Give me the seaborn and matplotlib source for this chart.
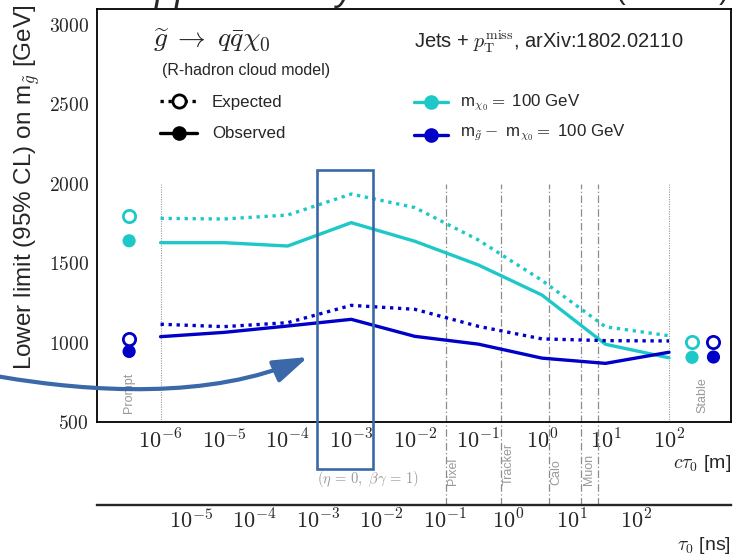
import numpy as np
import pandas as pd
import matplotlib
matplotlib.use("Agg")
import matplotlib.pyplot as plt
import seaborn as sns
from matplotlib.lines import Line2D
from matplotlib.patches import Rectangle, FancyArrowPatch
from matplotlib.path import Path
from matplotlib.ticker import FixedLocator, FuncFormatter, MultipleLocator, NullLocator

# ---------------------------------------------------------------- data
# proper decay length c*tau0 [m] of the scan points
ctau = [1e-6, 1e-5, 1e-4, 1e-3, 1e-2, 1e-1, 1e0, 1e1, 1e2]

# lower limits on the gluino mass [GeV]
light_exp = [1782, 1778, 1803, 1935, 1850, 1646, 1392, 1100, 1044]
light_obs = [1629, 1629, 1608, 1755, 1638, 1489, 1300, 990, 905]
comp_exp = [1116, 1101, 1126, 1235, 1210, 1103, 1024, 1013, 1011]
comp_obs = [1038, 1065, 1105, 1147, 1040, 991, 903, 870, 940]

# prompt and stable reference limits (expected, observed)
prompt_ctau = 3.2e-7
prompt_light = [1799, 1641]
prompt_comp = [1025, 945]
stable_ctau = [230, 500]          # light, compressed
stable_light = [1006, 908]
stable_comp = [1006, 910]

# detector boundaries in c*tau0 [m]
detector_names = ["Pixel", "Tracker", "Calo", "Muon"]
detector_bounds = [[0.0305], [0.227], [1.29], [4.12, 7.55]]

kind_labels = ["Expected", "Observed"]
scenario_labels = [r"m$_{\chi_0} =$ 100 GeV",
                   r"m$_{\tilde{g}} -$ m$_{\chi_0} =$ 100 GeV"]
scenario_colors = ["#1ec8c8", "#0000c8"]

C_LIGHT = 0.299792458  # m / ns

# ---------------------------------------------------------------- style
sns.set_style("white")
plt.rcParams["font.family"] = ["Liberation Sans", "DejaVu Sans"]
plt.rcParams["mathtext.fontset"] = "cm"

W, H = 733, 555
fig = plt.figure(figsize=(W / 100, H / 100), dpi=100)
fig.patch.set_facecolor("white")


def fx(px):
    return px / W


def fy(py):
    return 1 - py / H


ax = fig.add_axes([fx(97), fy(422.2), fx(634), 413.4 / H])
ax.set_xscale("log")
ax.set_xlim(1e-7, 10 ** 2.975)
ax.set_ylim(500, 3100)

# ---------------------------------------------------------------- curves
rows = []
for name, exp, obs in [("light", light_exp, light_obs), ("comp", comp_exp, comp_obs)]:
    for x, e, o in zip(ctau, exp, obs):
        rows.append({"ctau": x, "limit": e, "scenario": name, "kind": "Expected"})
        rows.append({"ctau": x, "limit": o, "scenario": name, "kind": "Observed"})
df = pd.DataFrame(rows)

palette = {"light": scenario_colors[0], "comp": scenario_colors[1]}
sns.lineplot(data=df, x="ctau", y="limit", hue="scenario", style="kind",
             palette=palette, dashes={"Observed": "", "Expected": (1, 1.4)},
             linewidth=2.4, estimator=None, sort=False, legend=False, ax=ax)

# prompt / stable points
pts = pd.DataFrame({
    "ctau": [prompt_ctau, prompt_ctau, stable_ctau[0], stable_ctau[0],
             prompt_ctau, prompt_ctau, stable_ctau[1], stable_ctau[1]],
    "limit": [prompt_light[0], prompt_light[1], stable_light[0], stable_light[1],
              prompt_comp[0], prompt_comp[1], stable_comp[0], stable_comp[1]],
    "scenario": ["light"] * 4 + ["comp"] * 4,
    "kind": ["Expected", "Observed"] * 4,
})
filled = pts[pts.kind == "Observed"]
sns.scatterplot(data=filled, x="ctau", y="limit", hue="scenario", palette=palette,
                s=90, linewidth=0, legend=False, ax=ax, clip_on=False, zorder=4)
for scen in ["light", "comp"]:
    sub = pts[(pts.kind == "Expected") & (pts.scenario == scen)]
    sns.scatterplot(data=sub, x="ctau", y="limit", color="white",
                    edgecolor=palette[scen], linewidth=2.0, s=78,
                    legend=False, ax=ax, clip_on=False, zorder=4)
ax.set_xlabel("")
ax.set_ylabel("")

# ---------------------------------------------------------------- axes cosmetics
for s in ax.spines.values():
    s.set_linewidth(1.3)
    s.set_color("black")

ax.xaxis.set_major_locator(FixedLocator([10.0 ** k for k in range(-6, 3)]))
ax.xaxis.set_minor_locator(NullLocator())
ax.xaxis.set_major_formatter(FuncFormatter(lambda v, p: r"$10^{%d}$" % int(round(np.log10(v)))))
ax.yaxis.set_major_locator(MultipleLocator(500))
ax.yaxis.set_minor_locator(MultipleLocator(100))
ax.yaxis.set_major_formatter(FuncFormatter(lambda v, p: r"$%d$" % v))
ax.tick_params(axis="both", which="both", direction="in", top=False, right=False,
               color="black", width=1.3)
ax.tick_params(axis="x", which="major", length=8, pad=5, labelsize=16)
ax.tick_params(axis="y", which="major", length=9, pad=6, labelsize=14)
ax.tick_params(axis="y", which="minor", length=4.5)

# second scale: tau0 in ns
ax2 = fig.add_axes([fx(97), fy(505), fx(634), 1e-4])
ax2.set_xscale("log")
lo, hi = ax.get_xlim()
ax2.set_xlim(lo / C_LIGHT, hi / C_LIGHT)
ax2.patch.set_visible(False)
for side in ["top", "left", "right"]:
    ax2.spines[side].set_visible(False)
ax2.spines["bottom"].set_linewidth(1.7)
ax2.yaxis.set_visible(False)
ax2.xaxis.set_major_locator(FixedLocator([10.0 ** k for k in range(-5, 3)]))
ax2.xaxis.set_minor_locator(NullLocator())
ax2.xaxis.set_major_formatter(FuncFormatter(lambda v, p: r"$10^{%d}$" % int(round(np.log10(v)))))
ax2.tick_params(axis="x", which="major", direction="in", length=8.5, width=1.3,
                pad=3, labelsize=16)

# ---------------------------------------------------------------- detector regions
xt = ax.get_xaxis_transform()
top_frac = (2000 - 500) / 2600
bot_frac = -(505 - 422.2) / 413.4
for name, bounds in zip(detector_names, detector_bounds):
    for b in bounds:
        ax.plot([b, b], [bot_frac, top_frac], transform=xt, clip_on=False,
                color="#8c8c8c", lw=0.9, ls=(0, (6, 2, 1, 2)), zorder=1)
    if len(bounds) == 1:
        xpos, dx = bounds[0], 5.3
    else:
        xpos, dx = float(np.sqrt(bounds[0] * bounds[1])), 0
    ax.annotate(name, xy=(xpos, -0.152), xycoords=xt, xytext=(dx, 0),
                textcoords="offset points", rotation=90, ha="center", va="bottom",
                fontsize=9, color="#999999", annotation_clip=False)

for b in [1e-6, 1e2]:
    ax.plot([b, b], [0, top_frac], transform=xt, color="#9a9a9a", lw=0.8,
            ls=(0, (1, 1.2)), zorder=1)
ax.text(prompt_ctau, 0.022, "Prompt", transform=xt, rotation=90, ha="center",
        va="bottom", fontsize=9, color="#999999")
ax.text(float(np.sqrt(stable_ctau[0] * stable_ctau[1])), 0.022, "Stable", transform=xt,
        rotation=90, ha="center", va="bottom", fontsize=9, color="#999999")

# ---------------------------------------------------------------- texts
fig.text(fx(153), fy(40), r"$\widetilde{g}\;\rightarrow\; q\bar{q}\chi_0$",
         fontsize=20, va="center", ha="left")
fig.text(fx(162), fy(70), "(R-hadron cloud model)", fontsize=11.5, va="center", ha="left")
fig.text(fx(414), fy(42), r"Jets + $p_\mathrm{T}^\mathrm{miss}$, arXiv:1802.02110",
         fontsize=14.5, va="center", ha="left")

fig.text(fx(27), fy(5), r"Lower limit (95% CL) on m$_{\tilde{g}}$ [GeV]", rotation=90,
         ha="center", va="top", fontsize=17.5)
fig.text(fx(731), fy(463), r"$c\tau_0$ [m]", ha="right", va="center", fontsize=14)
fig.text(fx(731), fy(545), r"$\tau_0$ [ns]", ha="right", va="center", fontsize=14)
fig.text(fx(317), fy(479), r"$(\eta\,=\,0,\ \beta\gamma\,=\,1)$", ha="left", va="center",
         fontsize=10.5, color="#999999")

# header line, mostly above the canvas
fig.text(fx(12), fy(0.5), "CMS", fontsize=26, weight="bold", va="baseline", ha="left")
fig.text(fx(112), fy(0.5), "Supplementary", fontsize=26, style="italic",
         va="baseline", ha="left")
fig.text(fx(729), fy(0.5), r"36.0 fb$^{-1}$ (13 TeV)", fontsize=21,
         va="baseline", ha="right")

# ---------------------------------------------------------------- legend rows
legend_fs = 12.2


def legend_row(x0, x1, y, color, text, dotted, open_marker, text_x, text_dy):
    fig.add_artist(Line2D([fx(x0), fx(x1)], [fy(y), fy(y)], transform=fig.transFigure,
                          color=color, lw=2.4,
                          ls=(0, (1, 1.4)) if dotted else "-"))
    fig.add_artist(Line2D([fx((x0 + x1) / 2)], [fy(y)], transform=fig.transFigure,
                          ls="none", marker="o", ms=9.5,
                          mfc="white" if open_marker else color, mec=color,
                          mew=2 if open_marker else 1))
    fig.text(fx(text_x), fy(y + text_dy), text, fontsize=legend_fs,
             va="baseline", ha="left")


legend_row(160, 197, 101, "black", kind_labels[0], True, True, 212, 5.5)
legend_row(160, 197, 133, "black", kind_labels[1], False, False, 212, 5.5)
legend_row(414, 448, 101.5, scenario_colors[0], scenario_labels[0], False, False, 460, 4.5)
legend_row(414, 448, 134.5, scenario_colors[1], scenario_labels[1], False, False, 460, 1.5)

# ---------------------------------------------------------------- highlight box and arrow
box_color = "#3a68a8"
fig.patches.append(Rectangle((fx(317), fy(469)), fx(373 - 317), (469 - 170) / H,
                             transform=fig.transFigure, fill=False,
                             edgecolor=box_color, lw=1.9, zorder=10))
verts = [(fx(0), fy(376.7)), (fx(90), fy(392)), (fx(210), fy(400)), (fx(308), fy(357))]
arrow_path = Path(verts, [Path.MOVETO, Path.CURVE4, Path.CURVE4, Path.CURVE4])
fig.patches.append(FancyArrowPatch(path=arrow_path, transform=fig.transFigure,
                                   arrowstyle="-|>,head_length=21,head_width=7",
                                   mutation_scale=1, color=box_color, lw=3,
                                   zorder=10))

fig.savefig("out.png", dpi=100)
